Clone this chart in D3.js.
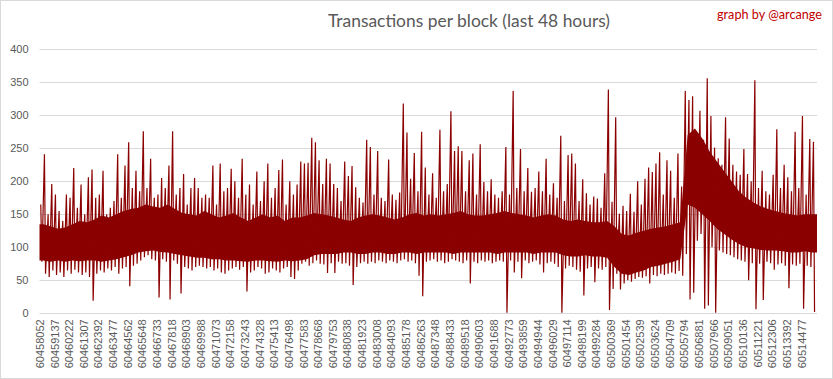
<!DOCTYPE html>
<html><head><meta charset="utf-8">
<script src="https://cdn.jsdelivr.net/npm/d3@7"></script>
<style>body{margin:0;background:#fff}svg{display:block}</style>
</head><body>
<svg id="c" width="833" height="379"></svg>
<script>
// ---- data ----
const tickLabels = ["60458052","60459137","60460222","60461307","60462392","60463477","60464562","60465648","60466733","60467818","60468903","60469988","60471073","60472158","60473243","60474328","60475413","60476498","60477583","60478668","60479753","60480838","60481923","60483008","60484093","60485178","60486263","60487348","60488433","60489518","60490603","60491688","60492773","60493859","60494944","60496029","60497114","60498199","60499284","60500369","60501454","60502539","60503624","60504709","60505794","60506881","60507966","60509051","60510136","60511221","60512306","60513392","60514477"];
const yTicks = [0,50,100,150,200,250,300,350,400];
// max / min transactions in each quarter of a label interval (~271 blocks)
const quarterMax = [
165,241,150,196,180,155,140,180,175,220,
160,195,150,206,218,175,180,216,150,160,
170,241,175,224,259,190,216,185,276,190,
234,175,180,205,190,224,276,180,190,211,
165,190,205,190,175,180,175,224,165,227,
185,190,219,200,175,234,180,195,165,215,
170,200,227,175,190,217,233,165,200,180,
195,
230,227,228,266,259,232,196,234,227,196,
190,170,230,208,223,191,175,168,263,252,
180,246,175,170,233,180,172,183,318,274,
204,243,185,275,221,180,212,175,278,185,
196,306,246,253,246,185,232,242,180,256,
199,185,203,180,175,185,252,180,337,190,
249,185,220,184,190,215,185,234,180,197,
175,269,170,240,242,227,170,203,182,165,
177,174,160,212,339,169,297,151,163,155,
181,154,200,165,204,221,214,227,244,180,
232,216,175,242,192,337,323,329,268,307,
263,356,299,251,235,225,297,265,225,215,
210,249,211,200,353,190,216,185,180,210,
279,190,225,206,185,275,190,299,180,264,260];
const quarterMin = [
78,60,55,65,58,62,55,65,60,66,
62,58,62,55,19,60,65,62,68,65,
70,60,68,70,41,72,75,80,85,88,
82,80,24,82,78,21,80,75,30,70,
68,65,70,72,70,68,70,65,68,62,
60,65,68,70,66,70,33,62,65,70,
68,60,62,68,65,62,68,70,55,52,
65,
75,78,72,76,80,75,74,61,76,61,
78,75,76,72,43,70,76,78,75,78,
76,80,78,76,80,78,76,80,82,78,
80,76,57,26,78,80,82,78,80,76,
78,82,80,78,76,80,45,78,76,80,
78,80,76,78,80,78,1,80,62,78,
53,80,76,78,80,74,62,76,78,75,
70,1,68,72,70,66,63,27,68,70,
47,68,66,70,5,37,60,36,45,50,
48,52,55,54,56,45,58,56,60,58,
60,62,60,64,57,90,21,31,110,120,
7,12,100,1,95,92,90,88,85,82,
80,78,50,76,6,75,20,78,76,66,
74,76,72,38,74,72,75,7,72,70,2];
// dense (solid) part of the series in each half label interval
const bandTop = [
135,132,128,130,135,140,138,142,148,145,150,155,158,160,165,162,160,165,158,152,
150,148,155,150,145,148,152,145,140,145,150,145,148,140,145,
145,148,152,150,148,145,142,140,145,148,150,148,145,142,145,150,152,148,150,148,
150,152,155,150,148,148,150,152,155,152,150,148,145,148,150,148,
142,140,142,140,138,138,140,132,120,118,122,125,128,130,132,135,138,270,280,265,
245,230,215,200,185,175,168,162,158,155,152,150,148,150,150];
const bandBot = [
80,78,80,78,80,79,80,80,78,80,82,85,88,92,94,95,93,92,90,88,
86,84,84,82,82,80,80,79,78,80,80,79,78,80,79,
80,82,88,90,90,90,92,92,90,90,92,92,90,90,92,92,90,92,92,92,
92,90,92,92,92,92,92,90,92,92,92,92,90,92,92,92,
88,86,86,88,86,86,84,70,60,58,62,65,70,72,75,78,82,165,160,150,
140,128,120,112,105,100,98,96,95,95,94,92,92,94,92];

// ---- chart ----
const W = 833, H = 379;
const red = "#8b0000", grey = "#595959", gridC = "#d9d9d9";
const svg = d3.select("#c");
svg.append("rect").attr("x",0.5).attr("y",0.5).attr("width",W-1).attr("height",H-1)
  .attr("fill","#fff").attr("stroke",gridC);

const nInt = 53.08;
const x = d3.scaleLinear().domain([0, nInt]).range([39.5, 817]);
const y = d3.scaleLinear().domain([0, 400]).range([313.3, 49.3]);

// gridlines
svg.append("g").selectAll("line").data(yTicks).join("line")
  .attr("x1", x(0)).attr("x2", x(nInt))
  .attr("y1", d => Math.round(y(d))+0.5).attr("y2", d => Math.round(y(d))+0.5)
  .attr("stroke", gridC).attr("stroke-width", 1);

// y axis labels
const ya = svg.append("g").attr("transform", `translate(${x(0)},0)`)
  .call(d3.axisLeft(y).tickValues(yTicks).tickSize(0).tickPadding(11));
ya.select(".domain").remove();
ya.selectAll("text").attr("fill", grey).style("font-family","Liberation Sans, Arial, sans-serif").style("font-size","11px");

// x axis labels
const xa = svg.append("g").attr("transform", `translate(0,${y(0)})`)
  .call(d3.axisBottom(x).tickValues(d3.range(tickLabels.length)).tickFormat(i => tickLabels[i]).tickSize(0));
xa.select(".domain").remove();
xa.selectAll("text").attr("fill", grey)
  .style("font-family","Liberation Sans, Arial, sans-serif").style("font-size","11px")
  .attr("transform","rotate(-90)").attr("x",-6).attr("y",0).attr("dy","0.35em")
  .style("text-anchor","end");

// solid band
const nb = bandTop.length;
const bandData = bandTop.map((t,i) => ({k:(i+0.5)/2, t, b:bandBot[i]}));
bandData.unshift({k:0, t:bandTop[0], b:bandBot[0]});
bandData.push({k:nInt, t:bandTop[nb-1], b:bandBot[nb-1]});
svg.append("path").datum(bandData)
  .attr("d", d3.area().x(d => x(d.k)).y0(d => y(d.b)).y1(d => y(d.t)))
  .attr("fill", red);

// spiky series: range (min..max) of every quarter interval
const pts = [];
quarterMax.forEach((v,q) => {
  pts.push([(q+0.35)/4, v]);
  pts.push([(q+0.65)/4, quarterMin[q]]);
});
svg.append("path").datum(pts)
  .attr("d", d3.line().x(d => x(d[0])).y(d => y(d[1])))
  .attr("fill","none").attr("stroke", red).attr("stroke-width", 1.2)
  .attr("stroke-linejoin","miter").attr("stroke-miterlimit", 1);

// title
function fitText(sel, width){
  const len = sel.node().getComputedTextLength();
  if (len > 0) sel.attr("textLength", width).attr("lengthAdjust","spacingAndGlyphs");
}
const title = svg.append("text").attr("x", 469).attr("y", 27).attr("text-anchor","middle")
  .attr("fill", grey).style("font-family","Lato, 'Open Sans', sans-serif").style("font-size","17.5px")
  .text("Transactions per block (last 48 hours)");
fitText(title, 282);
const credit = svg.append("text").attr("x", 822).attr("y", 19).attr("text-anchor","end")
  .attr("fill", "#c00000").style("font-family","Lato, 'Open Sans', sans-serif").style("font-size","12.5px")
  .text("graph by @arcange");
fitText(credit, 105);
</script>
</body></html>
